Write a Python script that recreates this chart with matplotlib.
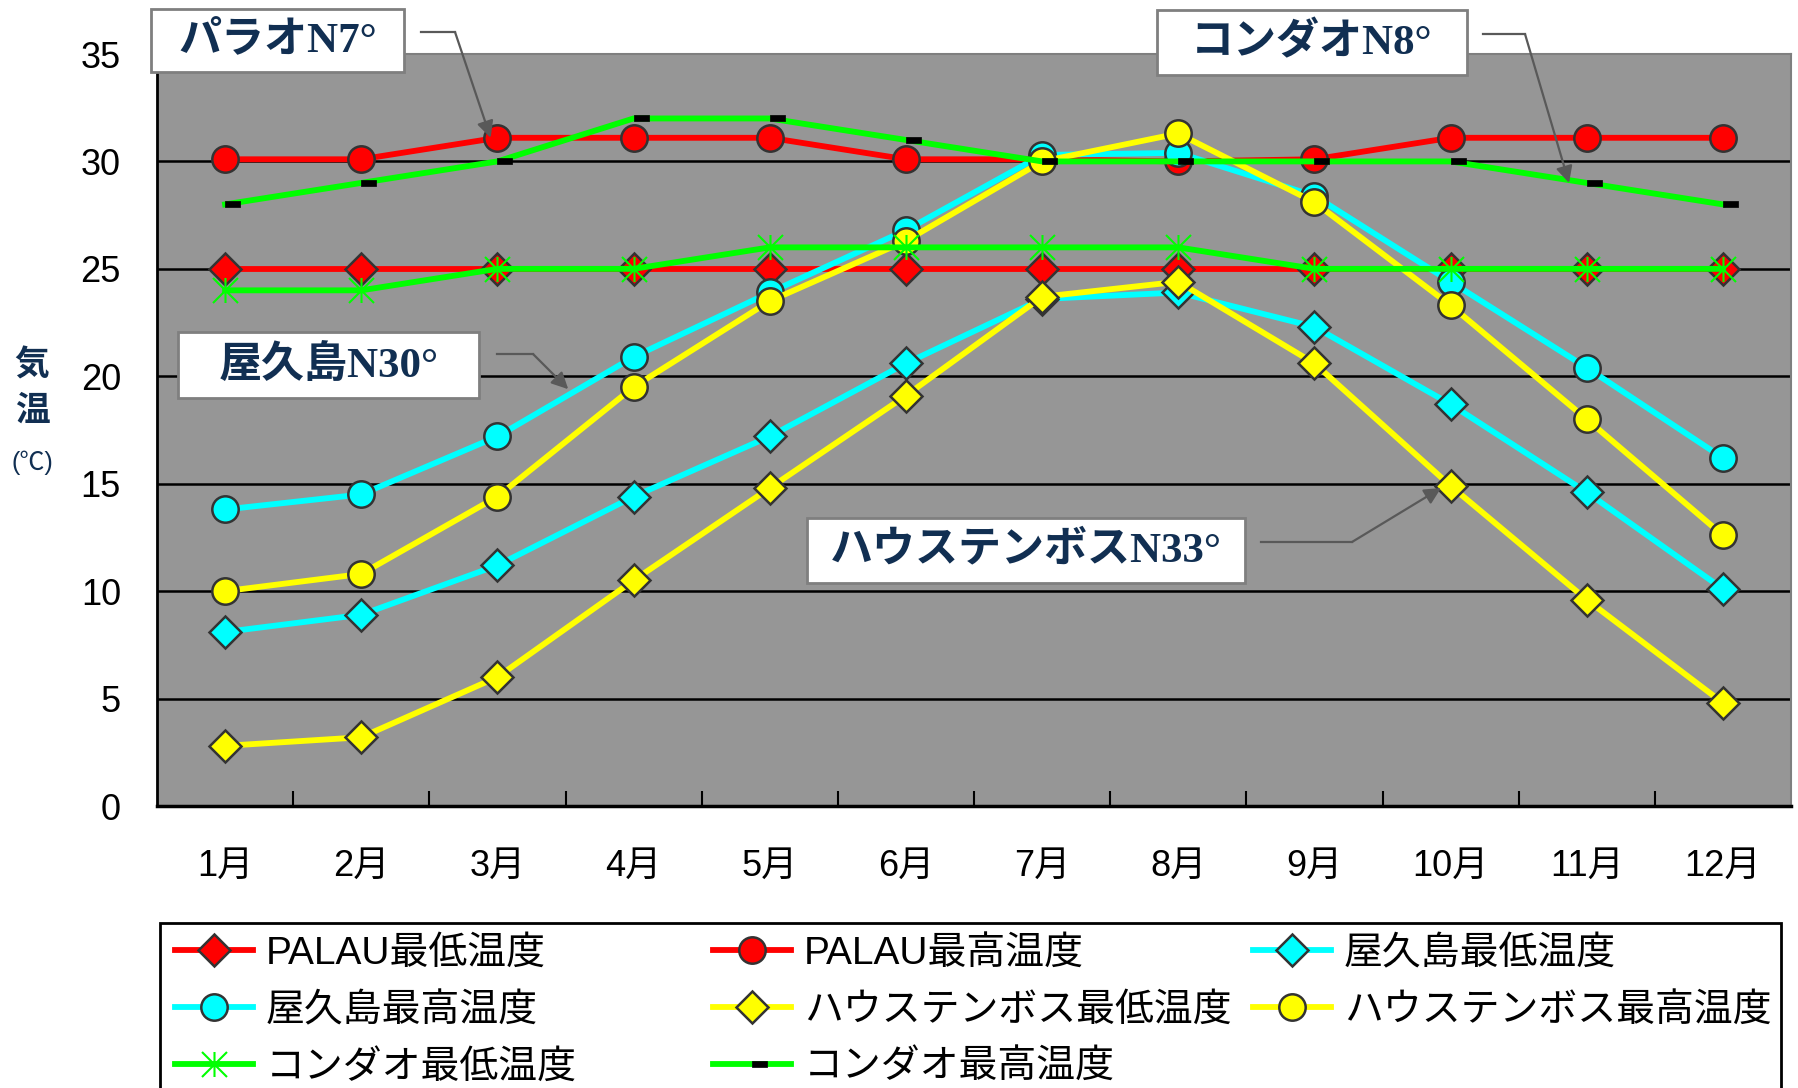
# -*- coding: utf-8 -*-
#月別気温の比較グラフ
import numpy as np
import matplotlib
matplotlib.use('Agg')
import matplotlib.pyplot as plt
from matplotlib.path import Path
from matplotlib.patches import Rectangle
from matplotlib.lines import Line2D

plt.rcParams['font.family'] = ['Liberation Sans', 'Noto Sans CJK JP', 'DejaVu Sans']

#データ
months = ['1月', '2月', '3月', '4月', '5月', '6月', '7月', '8月', '9月', '10月', '11月', '12月']
palau_min = [25, 25, 25, 25, 25, 25, 25, 25, 25, 25, 25, 25]
palau_max = [30.1, 30.1, 31.1, 31.1, 31.1, 30.1, 30.1, 30.0, 30.1, 31.1, 31.1, 31.1]
yaku_min = [8.1, 8.9, 11.2, 14.4, 17.2, 20.6, 23.6, 23.9, 22.3, 18.7, 14.6, 10.1]
yaku_max = [13.8, 14.5, 17.2, 20.9, 23.9, 26.8, 30.3, 30.4, 28.4, 24.4, 20.4, 16.2]
htb_min = [2.8, 3.2, 6.0, 10.5, 14.8, 19.1, 23.7, 24.4, 20.6, 14.9, 9.6, 4.8]
htb_max = [10.0, 10.8, 14.4, 19.5, 23.5, 26.3, 30.0, 31.3, 28.1, 23.3, 18.0, 12.6]
kondao_min = [24, 24, 25, 25, 26, 26, 26, 26, 25, 25, 25, 25]
kondao_max = [28, 29, 30, 32, 32, 31, 30, 30, 30, 30, 29, 28]

labels = ['PALAU最低温度', 'PALAU最高温度', '屋久島最低温度', '屋久島最高温度',
          'ハウステンボス最低温度', 'ハウステンボス最高温度', 'コンダオ最低温度', 'コンダオ最高温度']

W, H = 1798, 1088
navy = '#112F52'

#マーカー（コンダオ最高は右寄りの黒いダッシュ）
star = Path([(0, -1), (0, 1), (-1, -1), (1, 1), (-1, 1), (1, -1)],
            [Path.MOVETO, Path.LINETO, Path.MOVETO, Path.LINETO, Path.MOVETO, Path.LINETO])
dash = Path([(0, -0.2), (1, -0.2), (1, 0.2), (0, 0.2), (0, -0.2)], closed=True)

fig = plt.figure(figsize=(W / 100, H / 100), dpi=100)
ax = fig.add_axes([157 / W, 1 - 806 / H, 1634 / W, 752 / H])
ax.set_facecolor('#969696')

x = np.arange(1, 13)
mk = dict(markeredgecolor='#333333', markeredgewidth=1.8)
series = [
    (palau_min, '#FF0000', dict(marker='D', markersize=16, **mk)),
    (palau_max, '#FF0000', dict(marker='o', markersize=19, **mk)),
    (yaku_min, '#00FFFF', dict(marker='D', markersize=16, **mk)),
    (yaku_max, '#00FFFF', dict(marker='o', markersize=19, **mk)),
    (htb_min, '#FFFF00', dict(marker='D', markersize=16, **mk)),
    (htb_max, '#FFFF00', dict(marker='o', markersize=19, **mk)),
    (kondao_min, '#00FF00', dict(marker=star, markersize=18, markeredgecolor='#00FF00',
                                 markeredgewidth=1.5, fillstyle='none')),
    (kondao_max, '#00FF00', dict(marker=dash, markersize=22, markeredgecolor='black',
                                 markerfacecolor='black', markeredgewidth=0.5)),
]
handles = []
for (vals, color, kw), lab in zip(series, labels):
    h, = ax.plot(x, vals, color=color, lw=4.2, label=lab, zorder=3, **kw)
    handles.append(h)

#軸
ax.set_xlim(0.5, 12.5)
ax.set_ylim(0, 35)
ax.set_yticks(np.arange(0, 36, 5))
ax.set_xticks(x)
ax.set_xticklabels(months)
ax.set_xticks(np.arange(1.5, 12, 1), minor=True)
ax.tick_params(axis='x', which='major', length=0, pad=31, labelsize=26)
ax.tick_params(axis='x', which='minor', direction='in', length=11, width=1.5, color='black')
ax.tick_params(axis='y', length=0, pad=26, labelsize=26)
for yv in range(5, 35, 5):
    ax.axhline(yv, color='black', lw=1.8, zorder=1)
ax.spines['left'].set_linewidth(2)
ax.spines['bottom'].set_linewidth(2.5)
ax.spines['top'].set_color('#7f7f7f')
ax.spines['right'].set_color('#7f7f7f')
ax.spines['top'].set_linewidth(1.5)
ax.spines['right'].set_linewidth(1.5)

#縦軸ラベル
fig.text(32 / W, 1 - 365 / H, '気', ha='center', va='center', fontsize=25,
         fontweight='bold', color=navy, family='Noto Sans CJK JP')
fig.text(32 / W, 1 - 410 / H, '温', ha='center', va='center', fontsize=25,
         fontweight='bold', color=navy, family='Noto Sans CJK JP')
fig.text(32 / W, 1 - 463 / H, '(℃)', ha='center', va='center', fontsize=18,
         color=navy, family=['Liberation Sans', 'Noto Sans CJK JP'])

#吹き出し
callouts = [
    ('パラオN7°', (151, 9, 404, 72), (421, 455, 32), (2.95, 31.1)),
    ('コンダオN8°', (1157, 10, 1467, 75), (1483, 1525, 34), (10.87, 29.0)),
    ('屋久島N30°', (178, 332, 479, 398), (497, 533, 354), (3.52, 19.4)),
    ('ハウステンボスN33°', (807, 518, 1245, 583), (1261, 1352, 542), (9.93, 14.8)),
]
for text, (x0, y0, x1, y1), (s0, s1, sy), tip in callouts:
    fig.add_artist(Rectangle((x0 / W, 1 - y1 / H), (x1 - x0) / W, (y1 - y0) / H,
                             transform=fig.transFigure, facecolor='white',
                             edgecolor='#7f7f7f', lw=2, zorder=10))
    fig.text((x0 + x1) / 2 / W, 1 - (y0 + y1) / 2 / H, text, ha='center', va='center',
             fontsize=31, fontweight='bold', color=navy, zorder=11,
             family=['Liberation Serif', 'Noto Sans CJK JP'])
    fig.add_artist(Line2D([s0 / W, s1 / W], [1 - sy / H, 1 - sy / H],
                          transform=fig.transFigure, color='#595959', lw=1.6, zorder=10))
    ax.annotate('', xy=tip, xycoords='data', xytext=(s1, H - sy), textcoords='figure pixels',
                arrowprops=dict(arrowstyle='-|>', color='#595959', lw=1.6,
                                mutation_scale=25, shrinkA=0, shrinkB=0), zorder=10)

#凡例
fig.add_artist(Rectangle((160 / W, -0.1), 1621 / W, 0.1 + 1 - 923 / H,
                         transform=fig.transFigure, facecolor='white',
                         edgecolor='black', lw=2, zorder=0))
cols = [[0, 3, 6], [1, 4, 7], [2, 5]]
col_x = [175, 713, 1253]
for idx, cx in zip(cols, col_x):
    leg = fig.legend([handles[i] for i in idx], [labels[i] for i in idx],
                     loc='upper left', bbox_to_anchor=(cx / W, 1 - 936 / H),
                     frameon=False, fontsize=28, handlelength=2.0, handletextpad=0.33,
                     borderpad=0, borderaxespad=0, labelspacing=0.53)

fig.savefig('out.png', dpi=100, facecolor='white')
